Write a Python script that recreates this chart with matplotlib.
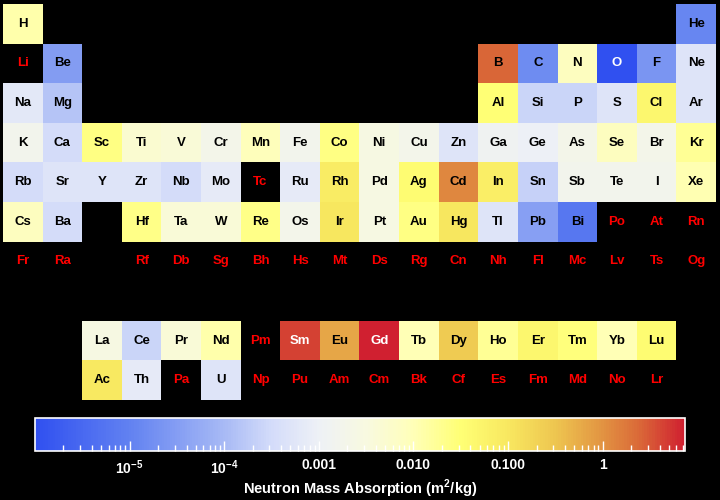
import numpy as np
import matplotlib
matplotlib.use("Agg")
import matplotlib.pyplot as plt
from matplotlib.colors import LinearSegmentedColormap, LogNorm

plt.rcParams['font.family'] = ['Liberation Sans', 'DejaVu Sans']
plt.rcParams['mathtext.fontset'] = 'custom'
plt.rcParams['mathtext.rm'] = 'Liberation Sans:bold'
plt.rcParams['mathtext.bf'] = 'Liberation Sans:bold'

# element symbols in atomic-number order
symbols = [
    'H', 'He', 'Li', 'Be', 'B', 'C', 'N', 'O', 'F', 'Ne',
    'Na', 'Mg', 'Al', 'Si', 'P', 'S', 'Cl', 'Ar', 'K', 'Ca',
    'Sc', 'Ti', 'V', 'Cr', 'Mn', 'Fe', 'Co', 'Ni', 'Cu', 'Zn',
    'Ga', 'Ge', 'As', 'Se', 'Br', 'Kr', 'Rb', 'Sr', 'Y', 'Zr',
    'Nb', 'Mo', 'Tc', 'Ru', 'Rh', 'Pd', 'Ag', 'Cd', 'In', 'Sn',
    'Sb', 'Te', 'I', 'Xe', 'Cs', 'Ba', 'La', 'Ce', 'Pr', 'Nd',
    'Pm', 'Sm', 'Eu', 'Gd', 'Tb', 'Dy', 'Ho', 'Er', 'Tm', 'Yb',
    'Lu', 'Hf', 'Ta', 'W', 'Re', 'Os', 'Ir', 'Pt', 'Au', 'Hg',
    'Tl', 'Pb', 'Bi', 'Po', 'At', 'Rn', 'Fr', 'Ra', 'Ac', 'Th',
    'Pa', 'U', 'Np', 'Pu', 'Am', 'Cm', 'Bk', 'Cf', 'Es', 'Fm',
    'Md', 'No', 'Lr', 'Rf', 'Db', 'Sg', 'Bh', 'Hs', 'Mt', 'Ds',
    'Rg', 'Cn', 'Nh', 'Fl', 'Mc', 'Lv', 'Ts', 'Og',
]

# log10 of neutron mass absorption (m^2/kg), None = no data
log_values = [
    -1.9, -4.9, None, -4.5, 0.4, -4.8, -2.1, -6.2, -4.65, -3.3,
    -3.2, -3.85, -1.5, -3.6, -3.6, -3.3, -1.35, -3.3, -2.8, -3.5,
    -1.6, -2.3, -2.4, -2.7, -2.05, -2.8, -1.6, -2.55, -2.75, -3.3,
    -2.9, -3.0, -2.7, -2.1, -2.7, -1.75, -3.5, -3.3, -3.3, -3.3,
    -3.5, -3.15, None, -3.15, -1.1, -2.55, -1.45, 0.1, -1.15, -3.65,
    -2.8, -2.8, -2.8, -1.95, -2.1, -3.5, -2.55, -3.6, -2.4, -1.9,
    None, 0.65, -0.2, 1.2, -2.0, -0.6, -1.75, -1.35, -1.55, -2.0,
    -1.45, -1.65, -2.4, -2.4, -1.65, -2.75, -1.0, -2.55, -1.6, -1.0,
    -3.3, -4.45, -5.2, None, None, None, None, None, -1.05, -3.15,
    None, -3.3, None, None, None, None, None, None, None, None,
    None, None, None, None, None, None, None, None, None, None,
    None, None, None, None, None, None, None, None,
]

vmin, vmax = 1e-6, 7.4

# colour stops (log10 value, colour)
stop_logs = [-6.0, -5.0, -4.0, -3.5, -3.0, -2.5, -2.0, -1.5, -1.0, -0.5, 0.0, 0.4, np.log10(vmax)]
stop_colors = ['#3050F0', '#6282F1', '#A8BAF5', '#D4DCFA', '#EEF1F6', '#F8F9E0', '#FFFFB8',
               '#FFFF75', '#F8E860', '#EEC650', '#E29442', '#DA6838', '#D02030']


def cell_position(z):
    # row, column of element z on the table grid
    if z == 1:
        return 0, 0
    if z == 2:
        return 0, 17
    starts = [(3, 1), (11, 2), (19, 3), (37, 4), (55, 5), (87, 6)]
    for start, period in reversed(starts):
        if z >= start:
            break
    off = z - start
    if period in (1, 2):
        return period, off if off < 2 else off + 10
    if period in (3, 4):
        return period, off
    if off < 2:
        return period, off
    if off <= 16:
        return period + 3, off
    return period, off - 14


span = np.log10(vmax) - np.log10(vmin)
cmap = LinearSegmentedColormap.from_list(
    'absorb', [((s - np.log10(vmin)) / span, c) for s, c in zip(stop_logs, stop_colors)])
norm = LogNorm(vmin=vmin, vmax=vmax)

grid = np.full((10, 18), np.nan)
for z, lv in enumerate(log_values, start=1):
    if lv is not None:
        r, c = cell_position(z)
        grid[r, c] = 10 ** lv

fig = plt.figure(figsize=(7.2, 5.0), dpi=100, facecolor='black')
ax = fig.add_axes([3 / 720, 0.2, 713 / 720, 0.792])
ax.set_facecolor('black')
im = ax.imshow(np.ma.masked_invalid(grid), cmap=cmap, norm=norm, extent=(0, 18, 10, 0),
               aspect='auto', interpolation='nearest')
ax.set_xlim(0, 18)
ax.set_ylim(10, 0)
ax.axis('off')

for z, (sym, lv) in enumerate(zip(symbols, log_values), start=1):
    r, c = cell_position(z)
    if lv is None:
        col = '#FF0000'
    elif lv > 0.5 or lv < -5.5:
        col = 'white'
    else:
        col = 'black'
    ax.text(c + 0.5, r + 0.5, sym, ha='center', va='center', fontsize=9.5,
            fontweight='bold', color=col)

cax = fig.add_axes([35 / 720, 1 - 451 / 500, 650 / 720, 33 / 500])
cbar = fig.colorbar(im, cax=cax, orientation='horizontal')
cbar.outline.set_edgecolor('white')
cbar.outline.set_linewidth(1.2)
ticks = [1e-5, 1e-4, 1e-3, 1e-2, 1e-1, 1]
cbar.set_ticks(ticks)
cbar.set_ticklabels([r'$\mathbf{10^{-5}}$', r'$\mathbf{10^{-4}}$', '0.001', '0.010', '0.100', '1'])
cax.tick_params(axis='x', which='major', direction='in', length=7, width=1, color='white',
                labelcolor='white', labelsize=10, pad=5)
cax.tick_params(axis='x', which='minor', direction='in', length=4, width=1, color='white')
for lab in cax.get_xticklabels():
    lab.set_fontweight('bold')
cbar.set_label('Neutron Mass Absorption (m$^2$/kg)', color='white', fontsize=10.5,
               fontweight='bold', labelpad=1)

fig.savefig('out.png', dpi=100, facecolor='black')
